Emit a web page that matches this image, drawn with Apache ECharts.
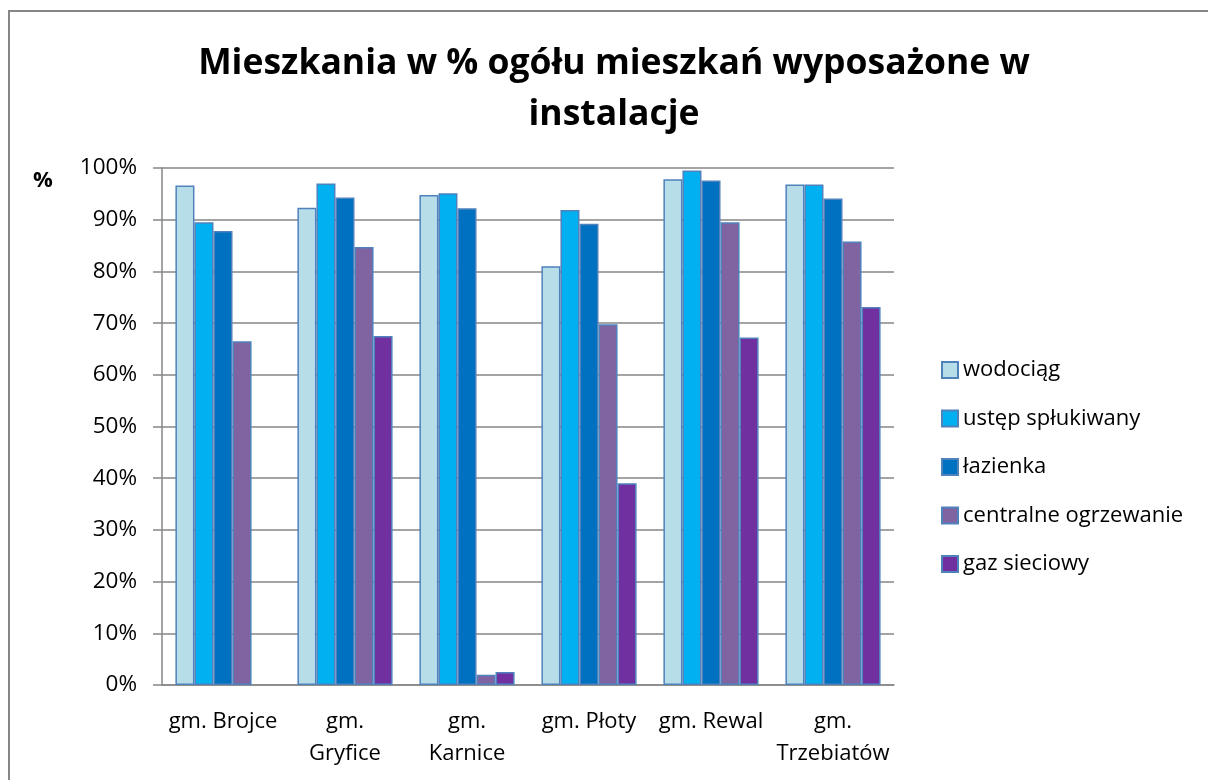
<!DOCTYPE html>
<html>
<head>
<meta charset="utf-8">
<title>Mieszkania wyposażone w instalacje</title>
<script src="https://cdn.jsdelivr.net/npm/echarts@6/dist/echarts.min.js"></script>
<style>
  html, body { margin: 0; padding: 0; background: #fff; }
  #chart { width: 1208px; height: 780px; }
</style>
</head>
<body>
<div id="chart"></div>
<script>
// gminy
let categories = ['gm. Brojce', 'gm.\nGryfice', 'gm.\nKarnice', 'gm. Płoty', 'gm. Rewal', 'gm.\nTrzebiatów']

// % mieszkań z daną instalacją (brak słupka = brak danych)
let wodociag = [96.6, 92.3, 94.8, 81.0, 97.8, 96.8]
let ustep = [89.5, 97.0, 95.1, 91.9, 99.5, 96.8]
let lazienka = [87.8, 94.3, 92.2, 89.2, 97.6, 94.1]
let centralne = [66.5, 84.7, 2.0, 69.8, 89.5, 85.8]
let gaz = [null, 67.5, 2.5, 39.0, 67.2, 73.1]

let yTicks = [0, 10, 20, 30, 40, 50, 60, 70, 80, 90, 100]

let font = '"Open Sans", "Noto Sans", sans-serif'
let gray = '#868686'

function bar(name, data, color) {
    return {
        name: name,
        type: 'bar',
        data: data,
        barGap: '0%',
        barCategoryGap: '22%',
        itemStyle: { color: color, borderColor: '#4F81BD', borderWidth: 1.5 }
    }
}

let myChart = echarts.init(document.getElementById('chart'))
let option = {
    animation: false,
    title: {
        text: 'Mieszkania w % ogółu mieszkań wyposażone w\ninstalacje',
        left: 614,
        top: 38,
        padding: 0,
        textAlign: 'center',
        textStyle: { fontFamily: font, fontSize: 35.5, fontWeight: 'bold', color: '#000', lineHeight: 51 }
    },
    graphic: [
        {
            type: 'rect',
            silent: true,
            shape: { x: 9, y: 11, width: 1400, height: 1000 },
            style: { fill: 'none', stroke: gray, lineWidth: 2 }
        },
        {
            type: 'text',
            x: 43, y: 181,
            style: { text: '%', font: 'bold 22px ' + font, fill: '#000', textAlign: 'center', textVerticalAlign: 'middle' }
        }
    ],
    legend: {
        orient: 'vertical',
        left: 936,
        top: 354,
        icon: 'rect',
        itemWidth: 16,
        itemHeight: 16,
        itemGap: 26.5,
        textStyle: { fontFamily: font, fontSize: 22, color: '#000', lineHeight: 22 }
    },
    grid: { left: 162, right: 314, top: 168, bottom: 95 },
    xAxis: {
        type: 'category',
        data: categories,
        axisLine: { lineStyle: { color: gray, width: 1.5 } },
        axisTick: { length: 9, lineStyle: { color: gray, width: 1.5 } },
        axisLabel: { fontFamily: font, fontSize: 22, color: '#000', lineHeight: 32, margin: 21, interval: 0 }
    },
    yAxis: {
        type: 'value',
        min: yTicks[0],
        max: yTicks[yTicks.length - 1],
        interval: 10,
        axisLine: { show: true, lineStyle: { color: gray, width: 1.5 } },
        axisTick: { show: true, length: 9, lineStyle: { color: gray, width: 1.5 } },
        splitLine: { lineStyle: { color: gray, width: 1.5 } },
        axisLabel: { fontFamily: font, fontSize: 22.5, color: '#000', margin: 25, formatter: '{value}%' }
    },
    series: [
        bar('wodociąg', wodociag, '#B7DEE8'),
        bar('ustęp spłukiwany', ustep, '#00B0F0'),
        bar('łazienka', lazienka, '#0070C0'),
        bar('centralne ogrzewanie', centralne, '#8064A2'),
        bar('gaz sieciowy', gaz, '#7030A0')
    ]
}
myChart.setOption(option)
</script>
</body>
</html>
